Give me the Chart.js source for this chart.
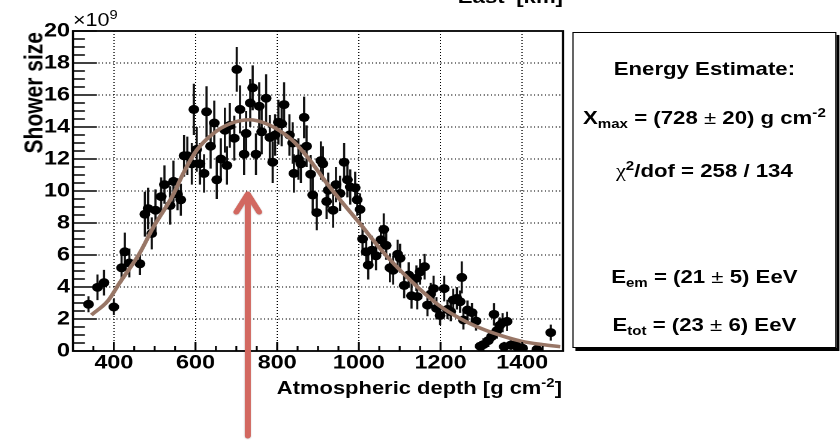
<!DOCTYPE html>
<html>
<head>
<meta charset="utf-8">
<script src="https://cdn.jsdelivr.net/npm/chart.js@4"></script>
<style>
  html, body { margin: 0; padding: 0; background: #fff; }
  body { width: 840px; height: 442px; overflow: hidden; position: relative; }
  /* the reference is stretched sideways, so everything is laid out 700px wide and scaled */
  #stage { position: absolute; left: 0; top: 0; width: 700px; height: 442px;
           transform: scaleX(1.2); transform-origin: 0 0;
           font-family: "Liberation Sans", Arial, sans-serif; color: #000; }
  #stage canvas { position: absolute; left: 0; top: 0; }
  .t { position: absolute; white-space: nowrap; font-weight: bold; }
  .sb { font-size: 0.68em; position: relative; top: 0.3em; }
  .sp { font-size: 0.68em; position: relative; top: -0.55em; }
  .pm { font-weight: normal; }
  .chi { font-family: "Liberation Serif", serif; font-weight: normal; }
  #panel { position: absolute; left: 476.7px; top: 32px; width: 218.6px; height: 314px;
           border: 1.5px solid #000; box-shadow: 2.5px 3px 0 #000; background: #fff; }
  #panel .t { left: 0; width: 100%; text-align: center; font-size: 18.5px; line-height: 18.5px; }
</style>
</head>
<body>
<div id="stage">
  <canvas id="chart" width="700" height="442"></canvas>

  <div class="t" style="left:0;width:469.2px;text-align:right;top:-12.5px;font-size:18.5px;line-height:18.5px">East' [km]</div>
  <div class="t" style="left:60.8px;top:11px;font-size:18px;line-height:18px;font-weight:normal">&times;10<span class="sp">9</span></div>
  <div class="t" style="left:0;top:0;width:170px;text-align:right;font-size:21px;line-height:21px;transform-origin:0 0;transform:translate(17.2px,202px) rotate(-90deg)">Shower size</div>
  <div class="t" style="left:0;width:468.3px;text-align:right;top:378.5px;font-size:18.3px;line-height:18.3px">Atmospheric depth [g cm<span class="sp">-2</span>]</div>

  <div id="panel">
    <div class="t" style="top:27px">Energy Estimate:</div>
    <div class="t" style="top:76px">X<span class="sb">max</span> = (728 <span class="pm">&plusmn;</span> 20) g cm<span class="sp">-2</span></div>
    <div class="t" style="top:129px"><span class="chi">&chi;</span><span class="sp">2</span>/dof = 258 / 134</div>
    <div class="t" style="top:235px">E<span class="sb">em</span> = (21 <span class="pm">&plusmn;</span> 5) EeV</div>
    <div class="t" style="top:283px">E<span class="sb">tot</span> = (23 <span class="pm">&plusmn;</span> 6) EeV</div>
  </div>
</div>

<script>
// measured profile (depth in g/cm2, size in units of 1e9)
const depth = [
  338, 360, 376, 400, 419, 427, 438, 464, 476, 484,
  493, 502, 516, 524, 538, 546, 556, 564, 572, 580,
  591, 596, 603, 611, 621, 627, 637, 646, 652, 662,
  672, 677, 684, 695, 701, 709, 719, 724, 734, 740,
  748, 756, 762, 773, 782, 789, 795, 803, 811, 817,
  830, 838, 841, 852, 858, 866, 872, 882, 887, 897,
  907, 912, 921, 925, 937, 944, 954, 964, 972, 979,
  991, 996, 1003, 1009, 1018, 1023, 1032, 1042, 1054, 1061,
  1067, 1076, 1084, 1095, 1101, 1111, 1122, 1129, 1141, 1143,
  1150, 1161, 1168, 1176, 1183, 1190, 1199, 1209, 1217, 1225,
  1231, 1240, 1248, 1252, 1256, 1266, 1277, 1287, 1297, 1305,
  1317, 1325, 1331, 1338, 1345, 1352, 1356, 1363, 1372, 1380,
  1388, 1401, 1436, 1470
];
const showerSize = [
  2.92, 3.98, 4.27, 2.75, 5.2, 6.2, 5.5, 5.45, 8.55, 8.9,
  7.35, 8.8, 9.65, 10.4, 9.1, 10.6, 9.8, 9.45, 12.2, 12.2,
  11.7, 15.1, 12.6, 11.7, 11.1, 14.95, 12.8, 14.25, 10.7, 12.0,
  13.8, 11.6, 14.1, 13.3, 17.6, 15.1, 12.3, 13.6, 15.5, 16.45,
  12.3, 15.3, 13.7, 15.8, 13.35, 11.8, 13.5, 14.3, 14.2, 15.4,
  13.5, 13.0, 11.1, 12.0, 11.7, 14.6, 12.8, 11.05, 9.75, 8.65,
  11.9, 11.7, 9.35, 10.05, 8.8, 10.4, 9.85, 11.8, 10.7, 10.25,
  10.2, 9.45, 8.85, 7.0, 6.2, 5.37, 6.3, 5.95, 6.95, 7.6,
  6.6, 5.2, 5.05, 6.05, 5.8, 4.1, 4.75, 3.45, 4.55, 3.4,
  4.95, 5.27, 2.87, 3.56, 3.9, 2.67, 2.22, 3.9, 2.6, 2.46,
  3.19, 3.29, 3.08, 4.6, 1.94, 2.56, 2.4, 1.87, 0.3, 0.4,
  0.65, 0.9, 2.29, 1.27, 1.6, 1.77, 0.27, 1.85, 0.37, 0.37,
  0.27, 0.17, 0.1, 1.15
];
const sizeErr = [
  0.5, 0.8, 0.8, 0.5, 0.9, 1.2, 0.9, 0.7, 1.4, 1.3,
  1.0, 1.3, 1.2, 1.2, 1.2, 1.3, 1.0, 1.0, 1.3, 1.2,
  1.3, 1.6, 1.4, 1.3, 1.2, 1.6, 1.4, 1.4, 1.2, 1.3,
  1.4, 1.2, 1.4, 1.4, 1.4, 1.5, 1.3, 1.4, 1.5, 1.4,
  1.3, 1.5, 1.4, 1.5, 1.4, 1.3, 1.3, 1.4, 1.4, 1.4,
  1.3, 1.3, 1.2, 1.3, 1.2, 1.3, 1.3, 1.2, 1.1, 1.1,
  1.2, 1.1, 1.1, 1.1, 1.1, 1.1, 1.1, 1.2, 1.1, 1.1,
  1.0, 1.0, 1.0, 1.0, 0.9, 0.9, 0.9, 0.9, 0.9, 1.0,
  0.9, 0.9, 0.9, 0.9, 0.9, 0.8, 0.8, 0.8, 0.8, 0.8,
  0.8, 0.8, 0.7, 0.7, 0.8, 0.7, 0.6, 0.8, 0.6, 0.6,
  0.7, 0.7, 0.7, 1.0, 0.6, 0.6, 0.6, 0.6, 0.3, 0.4,
  0.4, 0.4, 0.7, 0.5, 0.5, 0.6, 0.3, 0.6, 0.3, 0.3,
  0.3, 0.3, 0.3, 0.5
];

// fitted curve
const fitDepth = [345, 386, 414, 463, 496, 545, 570, 603, 644, 684, 733, 774, 807, 840,
                  881, 921, 962, 1003, 1052, 1101, 1150, 1199, 1250, 1300, 1350, 1400, 1450, 1493];
const fitSize  = [2.25, 3.15, 4.25, 6.1, 7.7, 9.75, 11.1, 12.55, 13.6, 14.2, 14.45, 14.2, 13.75, 13.1,
                  11.9, 10.5, 9.2, 7.95, 6.4, 5.05, 3.85, 2.8, 2.0, 1.4, 0.95, 0.6, 0.4, 0.27];

const xTicks = [400, 600, 800, 1000, 1200, 1400];
const yTicks = [0, 2, 4, 6, 8, 10, 12, 14, 16, 18, 20];
const xmaxDepth = 728;

const tickFont = { family: "'Liberation Sans', Arial, sans-serif", size: 19.5, weight: 'bold' };

const rootStyle = {
  id: 'rootStyle',
  beforeDatasetsDraw(chart) {
    // error bars
    const { ctx, chartArea: a, scales: { x, y } } = chart;
    ctx.save();
    ctx.beginPath();
    ctx.rect(a.left, a.top, a.right - a.left, a.bottom - a.top);
    ctx.clip();
    ctx.strokeStyle = '#111';
    ctx.lineWidth = 1.8;
    depth.forEach((d, i) => {
      const px = x.getPixelForValue(d);
      ctx.beginPath();
      ctx.moveTo(px, y.getPixelForValue(showerSize[i] - sizeErr[i]));
      ctx.lineTo(px, y.getPixelForValue(showerSize[i] + sizeErr[i]));
      ctx.stroke();
    });
    ctx.restore();
  },
  afterDatasetsDraw(chart) {
    // frame and inward ticks
    const { ctx, chartArea: a, scales: { x, y } } = chart;
    ctx.save();
    ctx.strokeStyle = '#000';
    ctx.lineWidth = 1.6;
    ctx.beginPath();
    for (let v = 0; v <= 20; v += 0.5) {
      const py = y.getPixelForValue(v);
      const len = yTicks.includes(v) ? 20 : 10;
      ctx.moveTo(a.left, py);
      ctx.lineTo(a.left + len, py);
    }
    for (let v = 350; v < 1500; v += 50) {
      const px = x.getPixelForValue(v);
      const len = xTicks.includes(v) ? 9 : 5;
      ctx.moveTo(px, a.bottom);
      ctx.lineTo(px, a.bottom - len);
    }
    ctx.stroke();
    ctx.lineWidth = 1.8;
    ctx.strokeRect(a.left, a.top, a.right - a.left, a.bottom - a.top);
    ctx.restore();
  },
  afterDraw(chart) {
    // arrow pointing at Xmax
    const { ctx, scales: { x, y } } = chart;
    const ax = x.getPixelForValue(xmaxDepth);
    const tip = y.getPixelForValue(10);
    ctx.save();
    ctx.strokeStyle = 'rgb(210,104,96)';
    ctx.lineWidth = 5;
    ctx.lineCap = 'round';
    ctx.lineJoin = 'round';
    ctx.shadowColor = 'rgba(0,0,0,0.25)';
    ctx.shadowBlur = 3;
    ctx.shadowOffsetY = 1;
    ctx.beginPath();
    ctx.moveTo(ax, tip + 3);
    ctx.lineTo(ax, 436);
    ctx.moveTo(ax - 9.5, tip + 21);
    ctx.lineTo(ax, tip + 3);
    ctx.lineTo(ax + 9.5, tip + 21);
    ctx.stroke();
    ctx.restore();
  }
};

new Chart(document.getElementById('chart'), {
  type: 'scatter',
  data: {
    datasets: [
      {
        type: 'line',
        data: fitDepth.map((d, i) => ({ x: d, y: fitSize[i] })),
        borderColor: 'rgb(152,118,102)',
        borderWidth: 3.5,
        pointRadius: 0,
        fill: false,
        cubicInterpolationMode: 'monotone',
        order: 0
      },
      {
        data: depth.map((d, i) => ({ x: d, y: showerSize[i] })),
        backgroundColor: '#000',
        borderColor: '#000',
        borderWidth: 0,
        pointRadius: 4.5,
        order: 1
      }
    ]
  },
  options: {
    responsive: false,
    animation: false,
    devicePixelRatio: 2,
    layout: { padding: { top: 31, right: 230.8, bottom: 0, left: 0 } },
    plugins: { legend: { display: false }, tooltip: { enabled: false } },
    scales: {
      x: {
        type: 'linear',
        min: 300,
        max: 1500,
        afterBuildTicks: s => { s.ticks = xTicks.map(v => ({ value: v })); },
        afterFit: s => { s.height = 91; },
        ticks: { font: tickFont, color: '#000', padding: 0.5, maxRotation: 0, autoSkip: false,
                 callback: v => String(v) },
        grid: { color: '#000', lineWidth: 1, drawTicks: false },
        border: { display: false, dash: [1, 2] }
      },
      y: {
        min: 0,
        max: 20,
        afterBuildTicks: s => { s.ticks = yTicks.map(v => ({ value: v })); },
        afterFit: s => { s.width = 60.8; },
        ticks: { font: tickFont, color: '#000', padding: 2.5, autoSkip: false,
                 callback: v => String(v) },
        grid: { color: '#000', lineWidth: 1, drawTicks: false },
        border: { display: false, dash: [1, 2] }
      }
    }
  },
  plugins: [rootStyle]
});
</script>
</body>
</html>
